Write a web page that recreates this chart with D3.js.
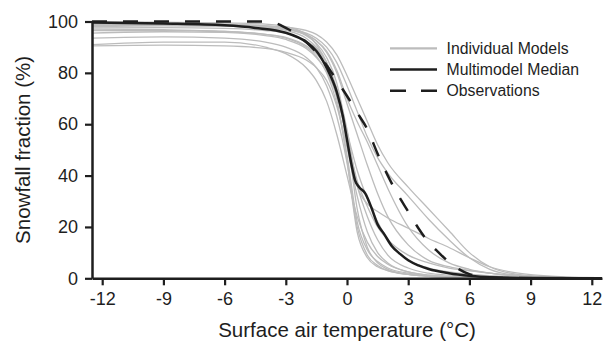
<!DOCTYPE html>
<html>
<head>
<meta charset="utf-8">
<script src="https://cdn.jsdelivr.net/npm/d3@7"></script>
<style>
  body { margin: 0; background: #fff; }
  svg { display: block; font-family: "Liberation Sans", Arial, sans-serif; }
</style>
</head>
<body>
<div id="chart"></div>
<script>
// temperatures (°C) at which the individual models were read
const modelTemps = [-12.5, -9, -6, -4, -3, -2, -1.5, -1, -0.5, 0, 0.5, 1, 1.5, 2, 3, 4, 5, 6, 7, 8, 10, 12.5];

// snowfall fraction (%) for each individual model
const model01 = [99.8, 99.7, 99.5, 99.0, 98.0, 95.0, 91.0, 84.0, 70.0, 46.0, 18.0, 8.0, 4.5, 3.0, 1.5, 0.8, 0.5, 0.3, 0.2, 0.1, 0.0, 0.0];
const model02 = [99.5, 99.4, 99.0, 98.3, 97.3, 94.5, 91.5, 86.0, 76.0, 56.0, 27.0, 12.0, 6.0, 3.5, 1.5, 0.8, 0.4, 0.2, 0.1, 0.1, 0.0, 0.0];
const model03 = [98.0, 98.3, 98.2, 97.5, 96.5, 93.5, 90.0, 84.0, 73.0, 53.0, 36.0, 24.0, 15.0, 9.0, 4.0, 2.0, 1.2, 0.7, 0.4, 0.2, 0.1, 0.0];
const model04 = [97.0, 96.8, 96.2, 95.0, 93.5, 90.0, 86.5, 80.0, 68.0, 48.0, 22.0, 11.0, 6.5, 4.0, 2.0, 1.0, 0.6, 0.4, 0.2, 0.1, 0.0, 0.0];
const model05 = [95.5, 96.0, 95.8, 94.5, 93.0, 89.5, 86.0, 80.5, 71.0, 55.0, 38.0, 28.0, 20.0, 15.0, 9.0, 6.0, 4.0, 3.0, 2.0, 1.2, 0.4, 0.0];
const model06 = [93.5, 94.0, 93.5, 92.0, 90.0, 86.0, 82.0, 75.0, 63.0, 45.0, 20.0, 9.0, 5.0, 3.0, 1.5, 0.8, 0.5, 0.3, 0.2, 0.1, 0.0, 0.0];
const model07 = [91.0, 92.0, 92.0, 90.0, 87.5, 82.0, 77.0, 69.0, 56.0, 40.0, 24.0, 14.0, 8.5, 5.5, 2.5, 1.2, 0.6, 0.3, 0.2, 0.1, 0.0, 0.0];
const model08 = [90.5, 90.8, 90.5, 89.5, 88.0, 85.0, 82.0, 77.0, 67.0, 51.0, 32.0, 18.0, 10.0, 6.0, 2.5, 1.2, 0.6, 0.3, 0.2, 0.1, 0.0, 0.0];
const model09 = [99.0, 99.0, 98.7, 98.3, 97.8, 96.5, 95.0, 92.0, 87.0, 79.0, 70.0, 61.0, 52.0, 45.0, 35.5, 27.0, 18.5, 10.0, 4.5, 2.0, 0.5, 0.0];
const model10 = [98.5, 98.5, 98.2, 97.6, 97.0, 95.5, 93.5, 90.0, 84.0, 75.0, 65.0, 55.0, 47.0, 41.0, 32.0, 23.0, 15.0, 8.0, 3.5, 1.5, 0.4, 0.0];
const model11 = [97.5, 97.6, 97.3, 96.5, 95.5, 92.5, 89.5, 84.0, 74.0, 58.0, 36.0, 29.0, 26.0, 23.5, 19.5, 15.5, 12.0, 8.0, 4.5, 2.5, 0.8, 0.0];
const model12 = [99.2, 99.0, 98.8, 98.2, 97.5, 95.0, 92.5, 88.0, 80.0, 68.0, 56.0, 44.0, 33.0, 24.0, 13.0, 7.0, 4.5, 3.0, 2.0, 1.2, 0.4, 0.0];
const model13 = [98.8, 98.7, 98.4, 97.8, 97.0, 94.8, 92.5, 88.5, 81.0, 70.0, 61.0, 53.0, 44.0, 35.0, 20.0, 11.0, 6.0, 3.5, 2.0, 1.0, 0.3, 0.0];
const model14 = [96.5, 96.5, 96.0, 95.0, 93.8, 90.5, 87.5, 82.0, 72.0, 57.0, 42.0, 31.0, 22.0, 15.0, 7.0, 4.0, 2.5, 1.6, 1.0, 0.6, 0.2, 0.0];
const models = [model01, model02, model03, model04, model05, model06, model07,
                model08, model09, model10, model11, model12, model13, model14];

// multimodel median
const medianTemps = [-12.5, -9, -6, -4.5, -3, -2, -1.5, -1, -0.5, -0.2, 0, 0.2, 0.4, 0.6, 0.9, 1.2, 1.5, 1.8, 2.2, 2.6, 3, 3.5, 4, 5, 6, 7, 9, 12.5];
const medianValues = [99.6, 99.2, 98.5, 97.5, 95.6, 92.0, 88.5, 82.0, 72.5, 63.0, 54.0, 45.0, 38.0, 35.5, 33.0, 27.5, 21.0, 17.5, 12.5, 9.5, 7.0, 5.0, 3.6, 2.0, 1.0, 0.4, 0.1, 0.0];

// observations
const obsTemps = [-12.5, -4, -3.5, -3, -2.5, -2, -1.5, -1, -0.5, 0, 0.5, 1, 1.5, 2, 2.5, 3, 3.5, 4, 4.5, 5, 5.5, 6, 6.5, 7, 8, 12.5];
const obsValues = [100, 100, 99.4, 97.5, 95.3, 92, 88, 83, 77, 71, 64.5, 58, 48.5, 40, 32.5, 26, 19.5, 14, 10, 6.3, 3.5, 1.6, 0.7, 0.3, 0.1, 0];

const xTicks = [-12, -9, -6, -3, 0, 3, 6, 9, 12];
const yTicks = [0, 20, 40, 60, 80, 100];
const legendLabels = ["Individual Models", "Multimodel Median", "Observations"];

const width = 606, height = 343;
const ink = "#1e1e1e", grey = "#bcbcbc";

const svg = d3.select("#chart").append("svg")
    .attr("width", width)
    .attr("height", height);

const x = d3.scaleLinear().domain([-12.5, 12.5]).range([92, 602]);
const y = d3.scaleLinear().domain([0, 100]).range([278.3, 21.5]);

const line = d3.line()
    .x(d => x(d[0]))
    .y(d => y(d[1]))
    .curve(d3.curveMonotoneX);

// individual models
svg.append("g").selectAll("path")
    .data(models)
    .join("path")
    .attr("d", vals => line(modelTemps.map((t, i) => [t, vals[i]])))
    .attr("fill", "none")
    .attr("stroke", grey)
    .attr("stroke-width", 1.3);

svg.append("path")
    .attr("d", line(medianTemps.map((t, i) => [t, medianValues[i]])))
    .attr("fill", "none")
    .attr("stroke", ink)
    .attr("stroke-width", 2.5);

svg.append("path")
    .attr("d", line(obsTemps.map((t, i) => [t, obsValues[i]])))
    .attr("fill", "none")
    .attr("stroke", ink)
    .attr("stroke-width", 2.5)
    .attr("stroke-dasharray", "15,16");

// axes (plain hyphen for negatives, like the original)
const xAxis = svg.append("g")
    .attr("transform", `translate(0,${y(0)})`)
    .call(d3.axisBottom(x).tickValues(xTicks).tickFormat(d => String(d))
        .tickSize(7).tickPadding(7).tickSizeOuter(0));
const yAxis = svg.append("g")
    .attr("transform", `translate(${x(-12.5)},0)`)
    .call(d3.axisLeft(y).tickValues(yTicks).tickFormat(d => String(d))
        .tickSize(7).tickPadding(7).tickSizeOuter(0));

[xAxis, yAxis].forEach(a => {
    a.select(".domain").attr("stroke", ink).attr("stroke-width", 2.5);
    a.selectAll(".tick line").attr("stroke", ink).attr("stroke-width", 2.2);
    a.selectAll(".tick text")
        .attr("fill", ink)
        .style("font-size", "18px")
        .style("font-family", "'Liberation Sans', Arial, sans-serif");
});

svg.append("text")
    .attr("x", x(0))
    .attr("y", 336.5)
    .attr("text-anchor", "middle")
    .attr("fill", ink)
    .style("font-size", "20.5px")
    .text("Surface air temperature (°C)");

svg.append("text")
    .attr("transform", `translate(30,${(y(0) + y(100)) / 2}) rotate(-90)`)
    .attr("text-anchor", "middle")
    .attr("fill", ink)
    .style("font-size", "20.5px")
    .text("Snowfall fraction (%)");

// legend
const legend = svg.append("g").selectAll("g")
    .data(legendLabels)
    .join("g")
    .attr("transform", (d, i) => `translate(390,${48.3 + i * 21.2})`);

legend.append("line")
    .attr("x1", 0).attr("x2", 47)
    .attr("stroke", (d, i) => i === 0 ? grey : ink)
    .attr("stroke-width", (d, i) => i === 0 ? 2.2 : 2.5)
    .attr("stroke-dasharray", (d, i) => i === 2 ? "16,15" : null);

legend.append("text")
    .attr("x", 56.5)
    .attr("dy", "0.35em")
    .attr("fill", ink)
    .style("font-size", "15.8px")
    .text(d => d);
</script>
</body>
</html>
